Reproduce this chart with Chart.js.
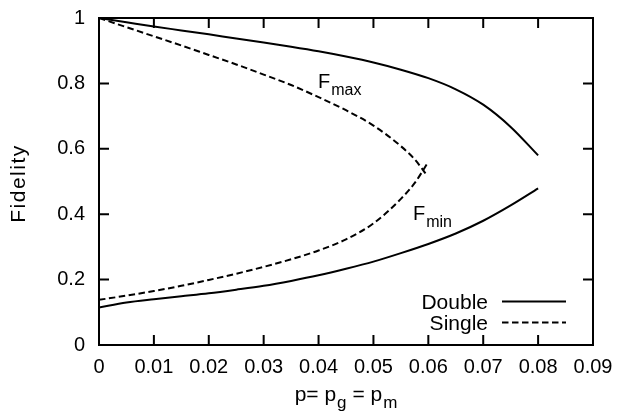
<!DOCTYPE html>
<html><head><meta charset="utf-8">
<script src="https://cdn.jsdelivr.net/npm/chart.js@4"></script>
<style>html,body{margin:0;padding:0;background:#fff}</style>
</head><body>
<canvas id="c" width="621" height="416"></canvas>
<script>
// ---- data ----
const pDouble   = [0,0.005,0.01,0.015,0.02,0.025,0.03,0.035,0.04,0.045,0.05,0.055,0.06,0.065,0.07,0.075,0.08];
const doubleMax = [1.000,0.987,0.974,0.962,0.950,0.937,0.925,0.912,0.898,0.882,0.864,0.842,0.816,0.782,0.735,0.667,0.580];
const doubleMin = [0.115,0.130,0.140,0.149,0.158,0.169,0.181,0.196,0.213,0.233,0.255,0.281,0.309,0.341,0.380,0.427,0.479];
const pSingleMax = [0,0.005,0.01,0.015,0.02,0.025,0.03,0.035,0.04,0.045,0.05,0.055,0.0575,0.0597];
const singleMax  = [1.000,0.972,0.944,0.916,0.887,0.858,0.827,0.795,0.758,0.718,0.671,0.608,0.568,0.520];
const pSingleMin = [0,0.005,0.01,0.015,0.02,0.025,0.03,0.035,0.04,0.045,0.05,0.055,0.0575,0.06];
const singleMin  = [0.138,0.151,0.165,0.181,0.199,0.218,0.239,0.262,0.289,0.323,0.372,0.447,0.495,0.560];
const seriesNames = ['Double','Single'];
const xTickValues = [0,0.01,0.02,0.03,0.04,0.05,0.06,0.07,0.08,0.09];
const xTickLabels = ['0','0.01','0.02','0.03','0.04','0.05','0.06','0.07','0.08','0.09'];
const yTickValues = [0,0.2,0.4,0.6,0.8,1];
const yTickLabels = ['0','0.2','0.4','0.6','0.8','1'];
const yTitle = 'Fidelity';
const xTitleParts = [['p= p',false],['g',true],[' = p',false],['m',true]];
const curveLabels = [['F','max'],['F','min']];

const FONT = '"Liberation Sans", Arial, Helvetica, sans-serif';
const DASH = [6.5,3.5];
Chart.defaults.font.family = FONT;
Chart.defaults.color = '#000';

function mk(label, xs, ys, dash){
  return {label, data: xs.map((x,i)=>({x, y: ys[i]})), borderColor:'#000', backgroundColor:'#000',
    borderWidth:2, borderDash:dash, pointRadius:0, fill:false, cubicInterpolationMode:'monotone'};
}

function drawSub(ctx, x, y, main, sub){
  ctx.font = '20px ' + FONT;
  const w1 = ctx.measureText(main).width;
  ctx.textAlign='left'; ctx.textBaseline='alphabetic';
  ctx.fillText(main, x, y);
  ctx.font = '16px ' + FONT; ctx.fillText(sub, x + w1 + 1, y + 7);
}

const decor = {
  id:'decor',
  afterDatasetsDraw(chart){
    const {ctx, chartArea:a, scales:{x, y}} = chart;
    ctx.save();
    ctx.strokeStyle='#000'; ctx.fillStyle='#000'; ctx.lineWidth=2; ctx.setLineDash([]);
    ctx.strokeRect(a.left, a.top, a.right-a.left, a.bottom-a.top);
    ctx.beginPath();
    x.ticks.forEach(t=>{ const px = x.getPixelForValue(t.value);
      ctx.moveTo(px,a.bottom); ctx.lineTo(px,a.bottom-10);
      ctx.moveTo(px,a.top); ctx.lineTo(px,a.top+10); });
    y.ticks.forEach(t=>{ const py = y.getPixelForValue(t.value);
      ctx.moveTo(a.left,py); ctx.lineTo(a.left+10,py);
      ctx.moveTo(a.right,py); ctx.lineTo(a.right-10,py); });
    ctx.stroke();

    // curve labels
    drawSub(ctx, x.getPixelForValue(0.0399), y.getPixelForValue(0.786), curveLabels[0][0], curveLabels[0][1]);
    drawSub(ctx, x.getPixelForValue(0.0572), y.getPixelForValue(0.383), curveLabels[1][0], curveLabels[1][1]);

    // legend
    const ds = chart.data.datasets;
    const items = [[seriesNames[0], ds[0]], [seriesNames[1], ds[2]]];
    items.forEach((it, i)=>{
      const cy = 301.5 + i*21;
      ctx.font = '21px ' + FONT; ctx.textAlign='right'; ctx.textBaseline='alphabetic';
      ctx.fillText(it[0], a.right-105, cy+7);
      ctx.setLineDash(it[1].borderDash || []);
      ctx.lineWidth = it[1].borderWidth;
      ctx.beginPath(); ctx.moveTo(a.right-91, cy); ctx.lineTo(a.right-27, cy); ctx.stroke();
    });
    ctx.setLineDash([]);

    // x title with subscripts
    const parts = xTitleParts.map(p=>{ ctx.font = (p[1]?'17px ':'21px ') + FONT; return [p[0], p[1], ctx.measureText(p[0]).width]; });
    const total = parts.reduce((s,p)=>s+p[2]+(p[1]?1:0),0);
    let cx = (a.left+a.right)/2 - total/2;
    ctx.textAlign='left';
    parts.forEach(p=>{ ctx.font = (p[1]?'17px ':'21px ') + FONT;
      ctx.fillText(p[0], cx + (p[1]?1:0), p[1]?408:401); cx += p[2] + (p[1]?1:0); });

    // y title
    ctx.translate(25, (a.top+a.bottom)/2 + 2);
    ctx.rotate(-Math.PI/2);
    ctx.font = '21px ' + FONT; ctx.textAlign='center';
    try { ctx.letterSpacing = '1.5px'; } catch(e){}
    ctx.fillText(yTitle, 0, 0);
    try { ctx.letterSpacing = '0px'; } catch(e){}
    ctx.restore();
  }
};

new Chart(document.getElementById('c').getContext('2d'), {
  type:'line',
  data:{datasets:[
    mk(seriesNames[0]+' Fmax', pDouble, doubleMax, []),
    mk(seriesNames[0]+' Fmin', pDouble, doubleMin, []),
    mk(seriesNames[1]+' Fmax', pSingleMax, singleMax, DASH),
    mk(seriesNames[1]+' Fmin', pSingleMin, singleMin, DASH)
  ]},
  options:{
    responsive:false, animation:false, devicePixelRatio:1,
    layout:{padding:{left:0,right:28,top:18,bottom:0}},
    plugins:{legend:{display:false}, tooltip:{enabled:false}},
    scales:{
      x:{type:'linear', min:0, max:0.09,
        afterBuildTicks(s){ s.ticks = xTickValues.map(v=>({value:v})); },
        afterFit(s){ s.height = 71; s.paddingLeft = 0; s.paddingRight = 0; },
        grid:{display:false, drawTicks:false}, border:{display:false},
        ticks:{padding:10, maxRotation:0, autoSkip:false, color:'#000', font:{size:20},
          callback:(v,i)=>xTickLabels[i]}},
      y:{type:'linear', min:0, max:1,
        afterBuildTicks(s){ s.ticks = yTickValues.map(v=>({value:v})); },
        afterFit(s){ s.width = 99; s.paddingTop = 0; s.paddingBottom = 0; },
        grid:{display:false, drawTicks:false}, border:{display:false},
        ticks:{padding:14, autoSkip:false, color:'#000', font:{size:20},
          callback:(v,i)=>yTickLabels[i]}}
    }
  },
  plugins:[decor]
});
</script>
</body></html>
